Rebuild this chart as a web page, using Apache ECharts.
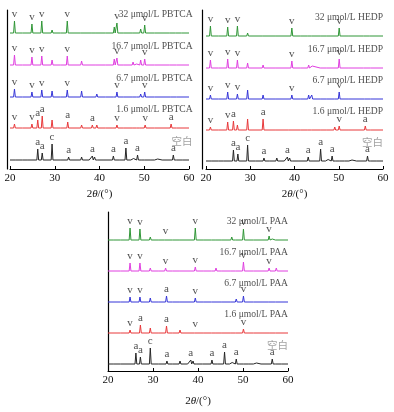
<!DOCTYPE html>
<html><head><meta charset="utf-8">
<script src="https://cdn.jsdelivr.net/npm/echarts@6/dist/echarts.min.js"></script>
<style>html,body{margin:0;padding:0;background:#fff}#c{width:394px;height:412px}</style>
</head><body><div id="c"></div>
<script>
// ---- data: peaks [2θ (°), intensity] ----
const xTicks = [20, 30, 40, 50, 60];
const traceLabels = ['空白', '1.6 μmol/L', '6.7 μmol/L', '16.7 μmol/L', '32 μmol/L'];
const inhibitors = ['PBTCA', 'HEDP', 'PAA'];

const blankPeaks = [[21.5,0.6],[23.0,1.2],[24.2,0.5],[26.2,11],[27.2,7],[29.4,16],[31.4,1],[33.1,3],[34.5,0.5],[36.0,3],[37.9,2],[38.4,4],[38.9,3],[39.4,1.5],[41.2,1],[43.1,4],[44.6,0.5],[45.9,12],[47.2,2],[47.6,1.5],[48.5,5],[49.1,1.5],[50.3,2],[51.5,0.6],[52.5,1.5],[53.0,1],[54.2,0.5],[56.5,5],[57.4,1.5],[58.8,0.6]];

const pbtca1 = [[21.0,4],[23.0,2],[24.9,4],[26.2,8],[27.2,12],[29.4,8],[31.5,0.8],[32.9,6],[34.5,0.5],[36.0,3],[38.4,3],[39.4,3],[41.5,0.6],[43.2,2],[43.9,3],[45.5,0.6],[47.5,2],[48.5,1.5],[49.2,2],[50.2,3],[52.5,0.8],[56.0,4],[57.4,1.5]];
const pbtca6 = [[21.0,8],[23.0,2],[24.9,5],[27.1,7],[29.4,6],[31.5,0.8],[32.8,7],[34.5,0.5],[36.0,6],[39.4,3],[41.5,0.6],[43.3,2],[43.9,5],[45.5,0.6],[47.5,2],[48.5,1],[49.2,3],[50.1,5],[52.5,0.8],[56.0,2],[57.4,2]];
const pbtca16 = [[21.0,10],[23.0,1],[24.9,8],[27.1,9],[29.4,5],[31.5,0.7],[32.8,9],[34.5,0.5],[36.0,4],[39.4,2],[41.5,0.6],[43.3,6],[43.9,7],[45.5,0.6],[47.5,3],[48.3,1],[49.2,5],[50.1,6],[52.5,0.7],[55.8,2],[57.4,2]];
const pbtca32 = [[21.0,12],[23.0,1],[24.9,9],[27.1,12],[29.4,3],[31.5,0.7],[32.8,12],[34.5,0.5],[36.0,2],[38.5,0.6],[39.4,1],[41.5,0.5],[43.3,6],[43.9,10],[45.5,0.5],[47.5,2],[49.2,4],[50.1,8],[52.5,0.6],[55.8,1],[57.2,1],[58.5,0.5]];

const hedp1 = [[21.0,3],[23.0,1],[24.9,8],[26.2,9],[27.1,5],[29.4,11],[31.5,0.7],[32.9,11],[36.0,2],[38.8,2],[41.5,0.5],[43.2,1],[44.0,1],[46.0,1],[47.5,0.8],[49.1,3],[50.1,4],[52.5,0.7],[56.0,4],[57.4,1]];
const hedp6 = [[21.0,4],[23.0,1],[24.9,7],[27.1,5],[29.4,9],[31.5,0.7],[32.9,4],[36.0,2],[39.4,4],[41.5,0.5],[43.2,4],[43.9,4],[46.0,0.6],[47.5,1],[49.2,1],[50.1,7],[52.5,0.7],[56.0,1],[57.4,2]];
const hedp16 = [[21.0,8],[23.0,1],[24.9,9],[27.1,8],[29.4,5],[31.5,0.6],[32.9,3],[36.0,2],[39.4,7],[41.5,0.5],[43.2,3],[44.0,2],[46.0,0.6],[47.5,1],[50.1,9],[52.5,0.6],[55.8,1],[57.4,2]];
const hedp32 = [[21.0,10],[23.0,0.7],[24.9,9],[27.1,10],[29.4,3],[31.5,0.6],[32.9,1],[36.0,1],[39.4,8],[41.5,0.5],[43.2,1],[44.0,2],[46.0,0.6],[47.5,0.8],[50.1,8],[52.5,0.6],[55.8,1],[57.2,1]];

const paa1 = [[23.0,0.8],[24.9,3],[27.2,8],[29.4,5],[31.5,0.6],[33.0,7],[34.5,0.5],[36.0,3],[39.4,2],[41.5,0.5],[43.2,2],[44.0,2],[45.5,0.5],[47.5,2],[48.5,2],[50.1,4],[52.5,0.6],[56.0,1],[57.4,1]];
const paa6 = [[23.0,0.8],[24.9,5],[27.1,5],[29.4,4],[31.5,0.6],[33.0,6],[34.5,0.5],[36.0,2],[39.4,4],[41.5,0.5],[43.2,2],[45.5,0.5],[47.5,1],[48.5,3],[50.1,6],[52.5,0.6],[55.8,0.8],[57.4,1]];
const paa16 = [[23.0,1.5],[24.9,8],[27.1,8],[29.4,3],[31.5,0.7],[32.8,3],[34.5,0.5],[36.0,2],[39.4,4],[41.5,0.5],[43.2,2],[44.0,3],[45.5,0.5],[47.5,2],[48.5,1],[50.1,9],[52.5,0.6],[55.8,3],[57.4,3]];
const paa32 = [[21.5,0.5],[23.0,1.5],[24.9,12],[27.1,11],[29.4,3],[31.5,0.7],[32.8,2],[34.5,0.5],[36.0,2],[39.4,12],[41.5,0.5],[43.2,2],[44.0,2],[45.5,0.5],[47.5,3],[48.5,2],[50.1,11],[52.5,0.6],[55.8,4],[56.5,1],[57.4,2]];

// ---- peak phase marks [2θ, letter] ----
const blankMarks = [[26.2,'a'],[27.2,'a'],[29.4,'c'],[33.1,'a'],[38.4,'a'],[43.1,'a'],[45.9,'a'],[48.5,'a'],[56.5,'a']];
const pbtca1Marks = [[21.0,'v'],[24.9,'v'],[26.2,'a'],[27.2,'a'],[32.9,'a'],[38.4,'a'],[43.9,'v'],[50.2,'v'],[56.0,'a']];
const pbtca6Marks = [[21.0,'v'],[24.9,'v'],[27.1,'v'],[32.8,'v'],[43.9,'v'],[50.1,'v']];
const pbtca16Marks = [[21.0,'v'],[24.9,'v'],[27.1,'v'],[32.8,'v'],[43.9,'v'],[50.1,'v']];
const pbtca32Marks = [[21.0,'v'],[24.9,'v'],[27.1,'v'],[32.8,'v'],[43.9,'v'],[50.1,'v']];
const hedp1Marks = [[21.0,'v'],[24.9,'v'],[26.2,'a'],[32.9,'a'],[50.1,'v'],[56.0,'a']];
const hedp6Marks = [[21.0,'v'],[24.9,'v'],[27.1,'v'],[39.4,'v'],[50.1,'v']];
const hedp16Marks = [[21.0,'v'],[24.9,'v'],[27.1,'v'],[39.4,'v'],[50.1,'v']];
const hedp32Marks = [[21.0,'v'],[24.9,'v'],[27.1,'v'],[39.4,'v'],[50.1,'v']];
const paa1Marks = [[24.9,'v'],[27.2,'a'],[33.0,'a'],[39.4,'v'],[50.1,'v']];
const paa6Marks = [[24.9,'v'],[27.1,'v'],[33.0,'a'],[39.4,'v'],[50.1,'v']];
const paa16Marks = [[24.9,'v'],[27.1,'v'],[32.8,'v'],[39.4,'v'],[50.1,'v'],[55.8,'v']];
const paa32Marks = [[24.9,'v'],[27.1,'v'],[32.8,'v'],[39.4,'v'],[50.1,'v'],[55.8,'v']];

// ---- layout / style ----
const colors = ['#262626', '#e8383a', '#3535d8', '#e03ee0', '#2f9636'];
const SERIF = '"Liberation Serif","DejaVu Serif",serif';
const panels = [
  {grid:{left:10, width:179, top:10, height:159}, yOff:3, offsets:[9,41,72,104,136], labelX:60.8,
   traces:[blankPeaks,pbtca1,pbtca6,pbtca16,pbtca32], marks:[blankMarks,pbtca1Marks,pbtca6Marks,pbtca16Marks,pbtca32Marks], nameGap:20},
  {grid:{left:206, width:177, top:10, height:159}, yOff:4, offsets:[8,39,70,101,133], labelX:60,
   traces:[blankPeaks,hedp1,hedp6,hedp16,hedp32], marks:[blankMarks,hedp1Marks,hedp6Marks,hedp16Marks,hedp32Marks], nameGap:20},
  {grid:{left:108, width:180, top:212, height:159}, yOff:0, offsets:[7,38,69,100,131], labelX:60,
   traces:[blankPeaks,paa1,paa6,paa16,paa32], marks:[blankMarks,paa1Marks,paa6Marks,paa16Marks,paa32Marks], nameGap:25}
];
const W = 0.2;
function buildLine(peaks, off) {
  const pts = [[20, off]];
  peaks.slice().sort((a,b)=>a[0]-b[0]).forEach(([x,h]) => { pts.push([x-W, off],[x, off+h],[x+W, off]); });
  pts.push([60, off]);
  return pts;
}
function heightAt(peaks, x) {
  let best = 0, bd = 0.6;
  peaks.forEach(([px,h]) => { const d = Math.abs(px-x); if (d < bd) { bd = d; best = h; } });
  return best;
}

const grid = [], xAxis = [], yAxis = [], series = [];
panels.forEach((p, gi) => {
  grid.push(p.grid);
  xAxis.push({type:'value', gridIndex:gi, min:xTicks[0], max:xTicks[xTicks.length-1], interval:10,
    axisLine:{lineStyle:{color:'#000', width:1}}, axisTick:{inside:true, length:3, lineStyle:{color:'#000'}},
    axisLabel:{fontFamily:SERIF, fontSize:11, color:'#111', margin:4}, splitLine:{show:false},
    name:'2{i|θ}/(°)', nameLocation:'middle', nameGap:p.nameGap,
    nameTextStyle:{fontFamily:SERIF, fontSize:11, color:'#111', rich:{i:{fontStyle:'italic', fontFamily:SERIF, fontSize:11, color:'#111'}}}});
  yAxis.push({type:'value', gridIndex:gi, min:0, max:p.grid.height, offset:p.yOff,
    axisLine:{show:true, lineStyle:{color:'#000', width:1.2}}, axisTick:{show:false}, axisLabel:{show:false}, splitLine:{show:false}});
  p.traces.forEach((tr, ti) => {
    const off = p.offsets[ti];
    series.push({type:'line', xAxisIndex:gi, yAxisIndex:gi, data:buildLine(tr, off), symbol:'none', silent:true,
      lineStyle:{color:colors[ti], width:1}, animation:false});
    const markData = p.marks[ti].map(([x, L]) => ({value:[x, off + heightAt(tr, x)], name:L}));
    series.push({type:'scatter', xAxisIndex:gi, yAxisIndex:gi, symbolSize:0, clip:false, animation:false, silent:true,
      data:markData, label:{show:true, position:'top', distance:1, formatter:'{b}', fontFamily:SERIF, fontSize:11, color:'#222'}});
    const name = ti === 0 ? traceLabels[0] : traceLabels[ti] + ' ' + inhibitors[gi];
    series.push({type:'scatter', xAxisIndex:gi, yAxisIndex:gi, symbolSize:0, clip:false, animation:false, silent:true,
      data:[{value:[p.labelX, off + 19], name:name}],
      label:{show:true, position:'left', distance:0, formatter:'{b}',
        fontFamily: ti === 0 ? '"Noto Sans CJK SC",sans-serif' : SERIF, fontSize: ti === 0 ? 10.5 : 9.6,
        color: ti === 0 ? '#8a8a8a' : '#222'}});
  });
});

const chart = echarts.init(document.getElementById('c'), null, {renderer:'canvas'});
chart.setOption({animation:false, backgroundColor:'#fff', grid, xAxis, yAxis, series});
</script></body></html>
